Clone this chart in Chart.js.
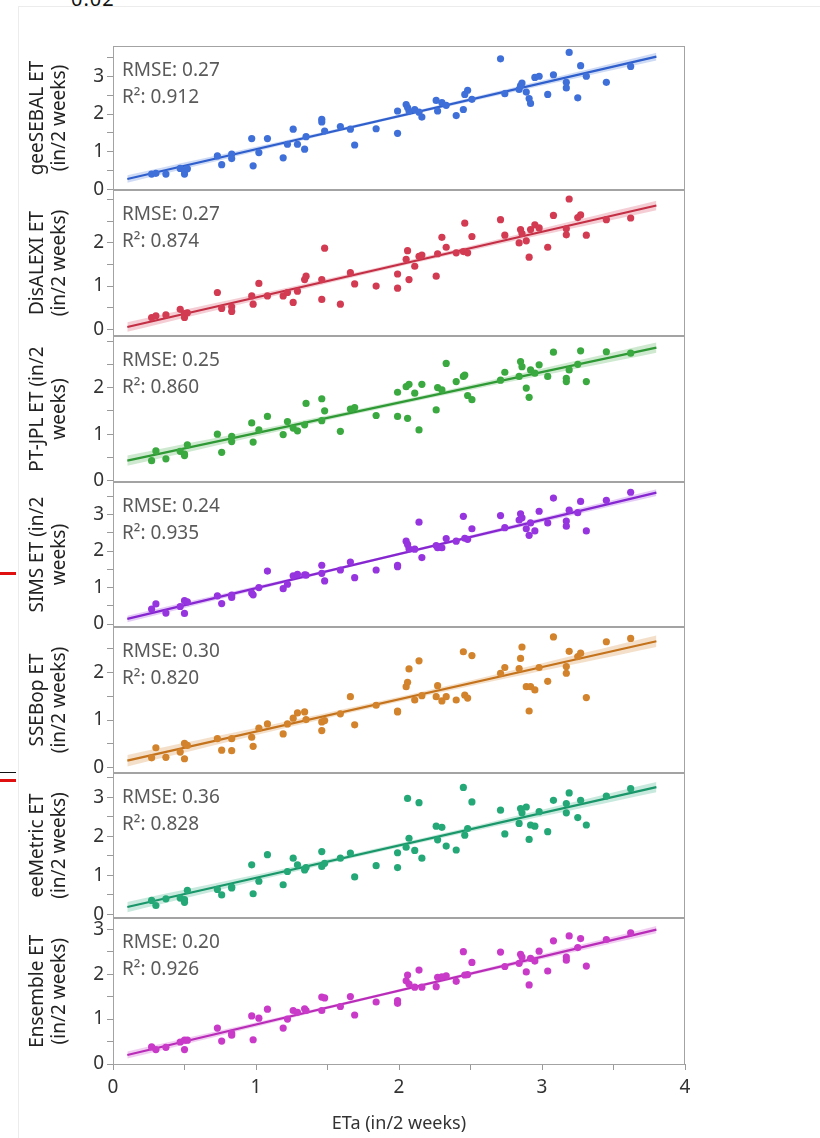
<!DOCTYPE html>
<html><head><meta charset="utf-8">
<script src="https://cdn.jsdelivr.net/npm/chart.js@4.4.1/dist/chart.umd.min.js"></script>
<style>
html,body{margin:0;padding:0;background:#fff;width:820px;height:1138px;overflow:hidden;position:relative;font-family:"Noto Sans",sans-serif}
#frame{position:absolute;left:18px;top:6px;width:802px;height:1132px;border-left:1px solid #ececec;border-top:1px solid #ececec;box-sizing:border-box}
canvas{position:absolute;left:0}
.clip{position:absolute;left:71px;top:-11px;font-size:20px;line-height:20px;color:#111;letter-spacing:1px}
.mark{position:absolute;left:0;width:16px}
</style></head><body>
<div id="frame"></div>
<div class="clip">0.02</div>
<div class="mark" style="top:572px;height:3px;background:#e01010"></div>
<div class="mark" style="top:772px;height:1px;background:#111"></div>
<div class="mark" style="top:779px;height:3px;background:#e01010"></div>
<div id="holder"></div>
<script>
// ---------------- data ----------------
const ETa = [0.27,0.30,0.37,0.47,0.50,0.50,0.52,
 0.73,0.76,0.83,0.83,
 0.97,0.98,1.02,1.08,
 1.19,1.22,1.26,1.29,1.34,1.35,
 1.46,1.46,1.48,
 1.59,1.66,1.69,
 1.84,
 1.99,1.99,
 2.05,2.06,2.07,2.11,2.14,2.16,
 2.26,2.27,2.30,2.33,
 2.40,2.45,2.46,2.48,2.51,
 2.71,2.74,
 2.84,2.85,2.86,2.89,2.91,2.92,2.95,2.98,
 3.04,3.08,3.17,3.17,3.19,3.25,3.27,3.31,3.45,3.62];

const geeSEBAL = [0.41,0.43,0.41,0.56,0.41,0.50,0.55,
 0.89,0.66,0.94,0.82,
 1.35,0.63,0.98,1.35,
 0.84,1.20,1.60,1.20,1.07,1.40,
 1.79,1.86,1.55,
 1.67,1.60,1.18,
 1.61,
 1.49,2.08,
 2.25,2.17,2.08,2.12,2.05,1.92,
 2.36,2.08,2.30,2.23,
 1.96,2.12,2.52,2.63,2.39,
 3.46,2.54,
 2.65,2.75,2.82,2.58,2.41,2.28,2.97,3.00,
 2.52,3.04,2.84,2.69,3.63,2.43,3.28,3.00,2.84,3.26];

const DisALEXI = [0.27,0.31,0.33,0.46,0.36,0.27,0.38,
 0.85,0.48,0.52,0.41,
 0.77,0.58,1.06,0.77,
 0.77,0.85,0.62,0.88,1.15,1.23,
 0.69,1.15,1.88,
 0.58,1.31,1.05,
 1.00,
 1.28,0.95,
 1.62,1.82,1.15,1.46,1.69,1.72,
 1.23,1.75,2.13,1.90,
 1.77,1.80,2.46,1.77,2.15,
 2.54,2.18,
 2.00,2.31,2.22,2.05,1.67,2.31,2.42,2.35,
 1.90,2.64,2.33,2.19,3.02,2.59,2.65,2.18,2.54,2.58];

const PTJPL = [0.43,0.64,0.47,0.63,0.57,0.54,0.77,
 1.00,0.61,0.95,0.84,
 1.24,0.83,1.09,1.38,
 0.99,1.27,1.13,1.07,1.20,1.66,
 1.29,1.76,1.50,
 1.06,1.54,1.57,
 1.40,
 1.90,1.38,
 2.02,1.34,2.07,1.88,1.09,2.07,
 1.52,2.00,1.95,2.52,
 2.13,2.24,2.27,1.83,1.74,
 2.16,2.33,
 2.24,2.56,2.45,1.99,1.79,2.38,2.31,2.49,
 2.24,2.76,2.20,2.13,2.38,2.50,2.79,2.13,2.77,2.74];

const SIMS = [0.41,0.55,0.30,0.48,0.64,0.29,0.61,
 0.77,0.56,0.79,0.73,
 0.85,0.80,1.00,1.45,
 0.97,1.09,1.32,1.36,1.35,1.34,
 1.61,1.39,1.18,
 1.48,1.70,1.27,
 1.48,
 1.61,1.57,
 2.27,2.18,2.06,2.05,2.79,1.82,
 2.15,2.09,2.09,2.34,
 2.27,2.95,2.35,2.32,2.61,
 2.97,2.64,
 2.85,3.02,2.91,2.61,2.43,2.77,2.55,3.09,
 2.77,3.45,2.82,2.68,3.12,3.05,3.36,2.55,3.39,3.61];

const SSEBop = [0.21,0.42,0.22,0.33,0.51,0.19,0.47,
 0.61,0.37,0.61,0.36,
 0.64,0.45,0.83,0.92,
 0.71,0.92,1.04,1.15,1.17,1.01,
 0.78,0.96,0.99,
 1.13,1.49,0.90,
 1.31,
 1.17,1.19,
 1.70,1.79,2.07,1.42,2.24,1.51,
 1.49,1.72,1.40,1.49,
 1.42,2.43,1.52,1.46,2.35,
 1.98,2.10,
 2.08,2.29,2.53,1.70,1.19,1.70,1.63,2.10,
 1.81,2.74,2.12,1.98,2.44,2.33,2.40,1.47,2.64,2.71];

const eeMetric = [0.36,0.23,0.40,0.42,0.38,0.31,0.62,
 0.64,0.50,0.68,0.70,
 1.27,0.53,0.85,1.53,
 0.76,1.10,1.44,1.27,1.14,1.20,
 1.61,1.23,1.31,
 1.44,1.57,0.96,
 1.25,
 1.58,1.20,
 1.72,2.97,1.95,1.64,2.86,1.44,
 2.26,1.91,2.23,1.75,
 1.65,3.25,2.03,2.20,2.88,
 2.67,2.06,
 2.33,2.71,2.60,2.75,1.92,2.29,2.26,2.63,
 2.12,2.92,2.60,2.84,3.11,2.48,2.92,2.29,3.03,3.22];

const Ensemble = [0.38,0.32,0.37,0.49,0.53,0.32,0.53,
 0.80,0.51,0.68,0.64,
 1.07,0.54,1.02,1.22,
 0.80,1.00,1.19,1.15,1.23,1.19,
 1.19,1.49,1.47,
 1.28,1.50,1.09,
 1.38,
 1.35,1.41,
 1.85,1.98,1.78,1.71,2.09,1.71,
 1.72,1.93,1.94,1.96,
 1.84,2.50,1.98,1.99,2.26,
 2.49,2.17,
 2.24,2.44,2.38,2.05,1.76,2.35,2.29,2.51,
 2.07,2.74,2.38,2.31,2.85,2.59,2.79,2.18,2.77,2.92];

const seriesValues = [geeSEBAL, DisALEXI, PTJPL, SIMS, SSEBop, eeMetric, Ensemble];
const axisTitles = [
  ['geeSEBAL ET','(in/2 weeks)'],
  ['DisALEXI ET','(in/2 weeks)'],
  ['PT-JPL ET (in/2','weeks)'],
  ['SIMS ET (in/2','weeks)'],
  ['SSEBop ET','(in/2 weeks)'],
  ['eeMetric ET','(in/2 weeks)'],
  ['Ensemble ET','(in/2 weeks)']
];
const xTitle = 'ETa (in/2 weeks)';
const rmseValues = ['0.27','0.27','0.25','0.24','0.30','0.36','0.20'];
const r2Values = ['0.912','0.874','0.860','0.935','0.820','0.828','0.926'];
const fitX = [0.1, 3.8];
const fitY = [[0.28,3.52],[0.05,2.87],[0.43,2.86],[0.14,3.60],[0.15,2.65],[0.19,3.26],[0.20,2.99]];
const bandX = [0.1, 1.95, 3.8];
const bandHalf = [[0.10,0.04,0.10],[0.11,0.045,0.11],[0.11,0.045,0.11],[0.09,0.035,0.09],[0.12,0.05,0.12],[0.13,0.05,0.13],[0.08,0.03,0.08]];
const yMin = [0,-0.15,-0.02,-0.07,-0.10,-0.08,0];
const yMax = [3.79,3.22,3.10,3.88,2.94,3.61,3.24];
const yTickLabels = [[0,1,2,3],[0,1,2],[0,1,2],[0,1,2,3],[0,1,2],[0,1,2,3],[0,1,2,3]];
const xTickLabels = [0,1,2,3,4];

// ---------------- style / layout ----------------
const colors = ['#3f6fd8','#d23b52','#3aa93f','#9634e0','#d2832b','#24a878','#c93ac9'];
const lineColors = ['#2f5fcc','#c42f45','#2f9a35','#8526d0','#c4731c','#19976a','#b82cb8'];
const panelTop = [46,190,336,482,627,773,918];
const panelBottom = [190,336,482,627,773,918,1064];
const PAGE_H = 1138, LEFT_PAD = 20, RIGHT_PAD = 135, YAXIS_W = 93, XAXIS_H = 74, EXTRA = 14;
const FONT = '"Noto Sans", "Open Sans", sans-serif';

function hexA(hex, a){
  const n = parseInt(hex.slice(1),16);
  return `rgba(${(n>>16)&255},${(n>>8)&255},${n&255},${a})`;
}
const halfFilter = s => { s.ticks = s.ticks.filter(t => Math.abs(t.value*2 - Math.round(t.value*2)) < 1e-6); };

const deco = {
  id: 'deco',
  afterDatasetsDraw(chart, args, opts) {
    const {ctx, chartArea: a} = chart;
    ctx.save();
    ctx.strokeStyle = '#a3a3a3';
    ctx.lineWidth = 1;
    ctx.strokeRect(Math.round(a.left)+0.5, Math.round(a.top)+0.5, Math.round(a.right-a.left)-1, Math.round(a.bottom-a.top));
    ctx.fillStyle = '#5a5a5a';
    ctx.font = '19px ' + FONT;
    ctx.textBaseline = 'middle';
    ctx.textAlign = 'left';
    ctx.fillText('RMSE: ' + opts.rmse, a.left + 9, a.top + 24);
    ctx.fillText('R\u00B2: ' + opts.r2, a.left + 9, a.top + 51);
    ctx.restore();
  }
};

const holder = document.getElementById('holder');
for (let i = 0; i < seriesValues.length; i++) {
  const last = i === seriesValues.length - 1;
  const top = panelTop[i] - EXTRA;
  const h = last ? PAGE_H - top : (panelBottom[i] - panelTop[i]) + 2*EXTRA;
  const cv = document.createElement('canvas');
  cv.width = 820; cv.height = h;
  cv.style.top = top + 'px';
  cv.style.width = '820px'; cv.style.height = h + 'px';
  holder.appendChild(cv);

  const vals = seriesValues[i];
  const pts = ETa.map((x, k) => ({x, y: vals[k]}));
  const lineAt = x => fitY[i][0] + (fitY[i][1]-fitY[i][0]) * (x - fitX[0]) / (fitX[1]-fitX[0]);
  const upper = bandX.map((x,k) => ({x, y: lineAt(x) + bandHalf[i][k]}));
  const lower = bandX.map((x,k) => ({x, y: lineAt(x) - bandHalf[i][k]}));
  const fit = fitX.map((x,k) => ({x, y: fitY[i][k]}));
  const labels = yTickLabels[i];

  new Chart(cv, {
    type: 'scatter',
    data: { datasets: [
      { type:'scatter', data: pts, backgroundColor: colors[i], borderWidth: 0, pointRadius: 3.6, pointHoverRadius: 3.6 },
      { type:'line', data: fit, borderColor: lineColors[i], borderWidth: 2.2, pointRadius: 0, fill: false, tension: 0 },
      { type:'line', data: upper, borderWidth: 0, borderColor: 'transparent', pointRadius: 0, fill: false, tension: 0.4 },
      { type:'line', data: lower, borderWidth: 0, borderColor: 'transparent', pointRadius: 0, fill: '-1', backgroundColor: hexA(colors[i], 0.25), tension: 0.4 }
    ]},
    options: {
      responsive: false, animation: false, devicePixelRatio: 1,
      layout: { padding: { left: LEFT_PAD, right: RIGHT_PAD, top: EXTRA, bottom: last ? 0 : EXTRA } },
      plugins: { legend: {display:false}, tooltip: {enabled:false}, deco: { rmse: rmseValues[i], r2: r2Values[i] } },
      events: [],
      scales: {
        x: {
          type: 'linear', min: 0, max: 4, display: last,
          afterFit: s => { if (last) s.height = XAXIS_H; },
          afterBuildTicks: halfFilter,
          ticks: { stepSize: 0.5, includeBounds: false, autoSkip: false, maxRotation: 0, padding: 6, color: '#333', font: {size: 19, family: FONT},
                   callback: v => xTickLabels.some(l => Math.abs(l - v) < 1e-6) ? String(Math.round(v)) : '' },
          grid: { display: true, drawOnChartArea: false, drawTicks: true, tickLength: 6, color: '#9a9a9a' },
          border: { display: false },
          title: { display: true, text: xTitle, color: '#333', font: {size: 18, family: FONT}, padding: {top: 0, bottom: 3} }
        },
        y: {
          type: 'linear', min: yMin[i], max: yMax[i],
          afterFit: s => { s.width = YAXIS_W; },
          afterBuildTicks: halfFilter,
          ticks: { stepSize: 0.5, includeBounds: false, autoSkip: false, padding: 3, color: '#333', font: {size: 19, family: FONT},
                   callback: v => labels.some(l => Math.abs(l - v) < 1e-6) ? String(Math.round(v)) : '' },
          grid: { display: true, drawOnChartArea: false, drawTicks: true, tickLength: 6, color: '#9a9a9a' },
          border: { display: false },
          title: { display: true, text: axisTitles[i], color: '#222', font: {size: 19, family: FONT, lineHeight: 1.15}, padding: {top: 7, bottom: 0} }
        }
      }
    },
    plugins: [deco]
  });
}
</script>
</body></html>
